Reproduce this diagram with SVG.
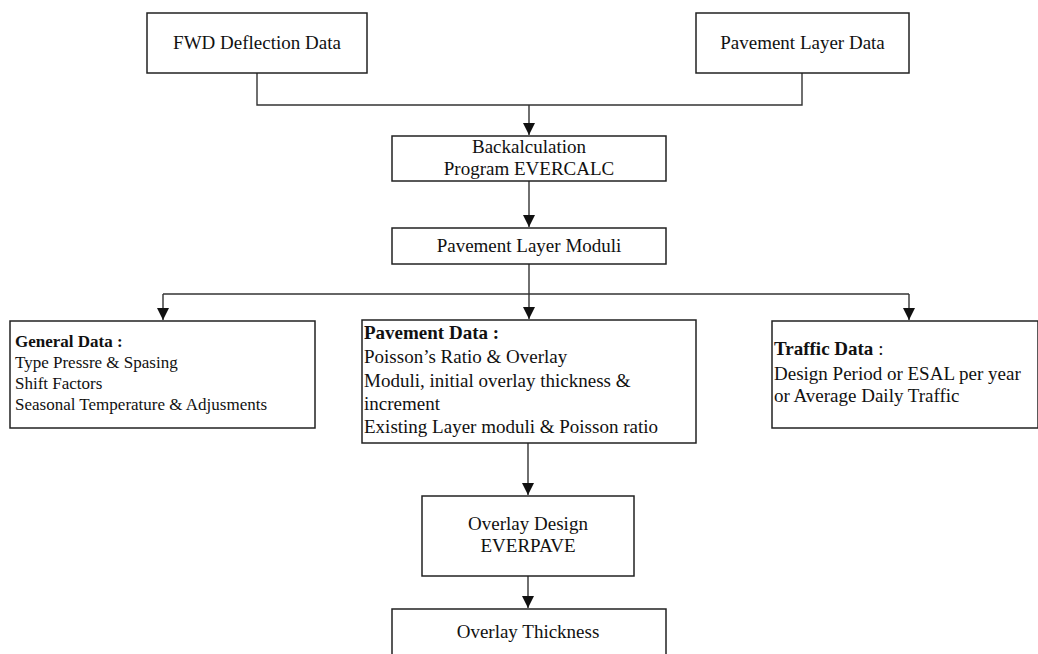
<svg xmlns="http://www.w3.org/2000/svg" width="1038" height="654" viewBox="0 0 1038 654">
<style>
.box{fill:#fff;stroke:#222;stroke-width:1.5}
.ln{fill:none;stroke:#333;stroke-width:1.4}
text{font-family:"Liberation Serif","Times New Roman",serif;fill:#111;font-size:19px}
.c{text-anchor:middle}
.s{font-size:17px}
.b{font-weight:bold}
</style>
<defs>
<marker id="ah" markerWidth="12" markerHeight="12" viewBox="0 0 12 12" refX="12" refY="6" orient="auto" markerUnits="userSpaceOnUse">
<path d="M0,0 L12,6 L0,12 Z" fill="#111"/>
</marker>
</defs>
<rect width="1038" height="654" fill="#fff"/>
<g id="connectors">
<path class="ln" d="M257,73 V105 H802 V73"/>
<path class="ln" d="M529,105 V135" marker-end="url(#ah)"/>
<path class="ln" d="M529,181 V227" marker-end="url(#ah)"/>
<path class="ln" d="M529,264 V294"/>
<path class="ln" d="M163,294 H909"/>
<path class="ln" d="M163,294 V320" marker-end="url(#ah)"/>
<path class="ln" d="M529,294 V319" marker-end="url(#ah)"/>
<path class="ln" d="M909,294 V320" marker-end="url(#ah)"/>
<path class="ln" d="M528,443 V495" marker-end="url(#ah)"/>
<path class="ln" d="M528,576 V608" marker-end="url(#ah)"/>
</g>
<g id="fwd">
<rect class="box" x="147" y="13" width="220" height="60"/>
<text class="c" x="257" y="49">FWD Deflection Data</text>
</g>
<g id="pld">
<rect class="box" x="696" y="13" width="213" height="60"/>
<text class="c" x="802.5" y="48.5">Pavement Layer Data</text>
</g>
<g id="backcalc">
<rect class="box" x="392" y="136" width="274" height="45"/>
<text class="c" x="529" y="153">Backalculation</text>
<text class="c" x="529" y="175">Program EVERCALC</text>
</g>
<g id="plm">
<rect class="box" x="392" y="228" width="274" height="36"/>
<text class="c" x="529" y="252">Pavement Layer Moduli</text>
</g>
<g id="general">
<rect class="box" x="10" y="321" width="305" height="107"/>
<text class="s b" x="15" y="347">General Data :</text>
<text class="s" x="15" y="368">Type Pressre &amp; Spasing</text>
<text class="s" x="15" y="389">Shift Factors</text>
<text class="s" x="15" y="410">Seasonal Temperature &amp; Adjusments</text>
</g>
<g id="pavement">
<rect class="box" x="362" y="320" width="334" height="123"/>
<text class="b" x="364" y="339">Pavement Data :</text>
<text x="364" y="363">Poisson’s Ratio &amp; Overlay</text>
<text x="364" y="387">Moduli, initial overlay thickness &amp;</text>
<text x="364" y="410">increment</text>
<text x="364" y="433">Existing Layer moduli &amp; Poisson ratio</text>
</g>
<g id="traffic">
<rect class="box" x="772" y="321" width="266" height="107"/>
<text x="774" y="355"><tspan class="b">Traffic Data</tspan> :</text>
<text x="774" y="380">Design Period or ESAL per year</text>
<text x="774" y="402">or Average Daily Traffic</text>
</g>
<g id="overlay">
<rect class="box" x="422" y="496" width="212" height="80"/>
<text class="c" x="528" y="530">Overlay Design</text>
<text class="c" x="528" y="552">EVERPAVE</text>
</g>
<g id="thickness">
<rect class="box" x="392" y="609" width="274" height="60"/>
<text class="c" x="528" y="638">Overlay Thickness</text>
</g>
</svg>
